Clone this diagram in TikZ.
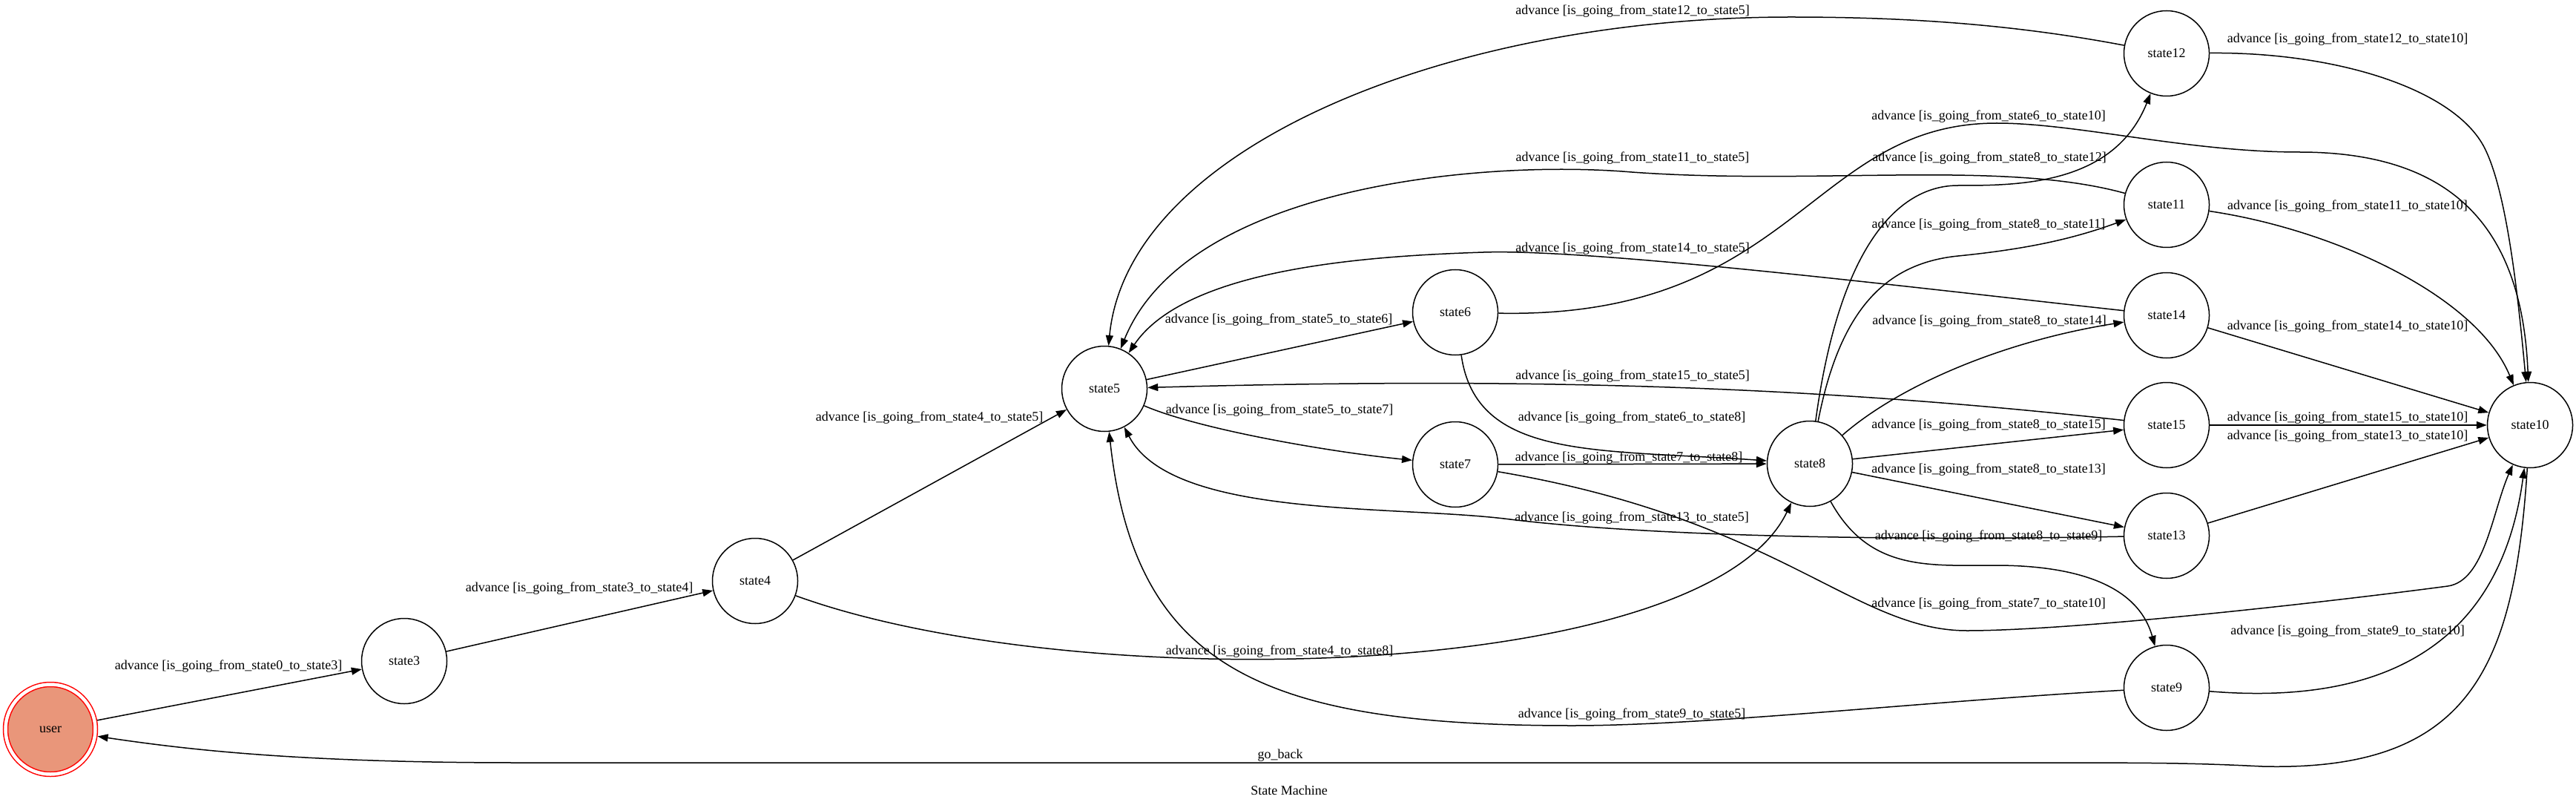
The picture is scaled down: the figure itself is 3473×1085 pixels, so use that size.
\documentclass[tikz,border=0pt]{standalone}
\usepackage{fontspec}
\setmainfont{Liberation Serif}
\usetikzlibrary{arrows.meta}
\definecolor{usersalmon}{HTML}{E9967A}
\tikzset{
  statenode/.style={circle, draw, line width=0.75pt, minimum size=57.5pt, inner sep=0pt},
  usernode/.style={circle, draw=red, line width=0.75pt, double=white, double distance=2.25pt,
    fill=usersalmon, minimum size=60.5pt, inner sep=0pt, outer sep=1.9pt},
  trans/.style={line width=0.75pt, -{Triangle[length=7pt,width=5pt]}},
  translabel/.style={inner sep=0pt}
}
\begin{document}
\begin{tikzpicture}[x=0.5pt, y=-0.5pt, font=\fontsize{9}{11}\selectfont]
                \useasboundingbox (0,0) rectangle (3473,1085);

                \node[usernode] (user) at (68,983) {user};
                \foreach \n/\x/\y in {3/545/891, 4/1018/783, 5/1489/524, 6/1962/421, 7/1962/626,
                    8/2440/625, 9/2921/927, 10/3411/573, 11/2921/276, 12/2921/72,
                    13/2921/722, 14/2921/425, 15/2921/573}
                {
                    \node[statenode] (s\n) at (\x,\y) {state\n};
                }

                % straight transitions
                \foreach \a/\b in {user/s3, s3/s4, s4/s5, s5/s6, s7/s8, s8/s15, s8/s13,
                    s14/s10, s15/s10, s13/s10}
                {
                    \draw[trans] (\a) -- (\b);
                }

                % curved transitions
                \draw[trans] (s4) .. controls (1450,940) and (2300,920) .. (s8);
                \draw[trans] (s5) .. controls (1620,580) and (1800,610) .. (s7);
                \draw[trans] (s6) .. controls (1990,620) and (2150,605) .. (s8);
                \draw[trans] (s6) .. controls (2420,430) and (2440,166) .. (2692,166)
                    .. controls (2800,166) and (2950,205) .. (3100,205)
                    .. controls (3300,205) and (3400,300) .. (s10);
                \draw[trans] (s7) .. controls (2400,700) and (2500,850) .. (2652,850)
                    .. controls (2800,850) and (3150,810) .. (3300,790)
                    .. controls (3350,783) and (3360,690) .. (s10);
                \draw[trans] (s8) .. controls (2520,770) and (2600,762) .. (2690,762)
                    .. controls (2780,762) and (2880,780) .. (s9);
                \draw[trans] (s8) .. controls (2480,420) and (2540,355) .. (2640,345)
                    .. controls (2740,335) and (2800,320) .. (s11);
                \draw[trans] (s8) .. controls (2480,330) and (2560,250) .. (2640,250)
                    .. controls (2720,250) and (2850,250) .. (s12);
                \draw[trans] (s8) .. controls (2560,520) and (2700,460) .. (s14);
                \draw[trans] (s9) .. controls (2600,945) and (2300,978) .. (2120,978)
                    .. controls (1700,978) and (1530,900) .. (s5);
                \draw[trans] (s9) .. controls (3200,950) and (3370,880) .. (s10);
                \draw[trans] (s11) .. controls (2700,215) and (2450,250) .. (2200,232)
                    .. controls (2000,215) and (1600,250) .. (s5);
                \draw[trans] (s12) .. controls (2700,30) and (2550,23) .. (2414,23)
                    .. controls (1950,23) and (1520,200) .. (s5);
                \draw[trans] (s14) .. controls (2600,390) and (2150,335) .. (2000,340)
                    .. controls (1850,345) and (1600,360) .. (s5);
                \draw[trans] (s15) .. controls (2400,515) and (2000,510) .. (s5);
                \draw[trans] (s13) .. controls (2500,730) and (2200,720) .. (2036,700)
                    .. controls (1880,680) and (1580,700) .. (s5);
                \draw[trans] (s11) .. controls (3150,310) and (3340,400) .. (s10);
                \draw[trans] (s12) .. controls (3150,70) and (3310,120) .. (3350,200)
                    .. controls (3380,260) and (3395,400) .. (s10);
                \draw[trans] (s10) .. controls (3390,900) and (3330,1040) .. (3050,1033)
                    .. controls (2950,1028) and (2900,1028) .. (2700,1028) -- (700,1028)
                    .. controls (400,1028) and (250,1010) .. (user);

                % labels
                \foreach \p/\q/\lx/\ly in {0/3/308/898, 3/4/781/793, 4/5/1253/563, 4/8/1725/878,
                    5/6/1724/431, 5/7/1725/553, 6/8/2200/563, 6/10/2681/157, 7/8/2196/617,
                    7/10/2681/814, 8/9/2681/723, 8/11/2681/303, 8/12/2682/213, 8/13/2681/633,
                    8/14/2682/433, 8/15/2681/573, 9/5/2200/963, 9/10/3165/851, 11/5/2201/213,
                    11/10/3165/278, 12/5/2201/15, 12/10/3165/53, 13/5/2200/698, 13/10/3165/588,
                    14/5/2201/335, 14/10/3165/440, 15/5/2201/507, 15/10/3165/563}
                {
                    \node[translabel] (l\p-\q) at (\lx,\ly) {advance [is\_going\_from\_state\p\_to\_state\q]};
                }
                \node[translabel] (lback) at (1726,1018) {go\_back};
                \node[translabel] (title) at (1738,1065) {State Machine};
            \end{tikzpicture}
\end{document}
